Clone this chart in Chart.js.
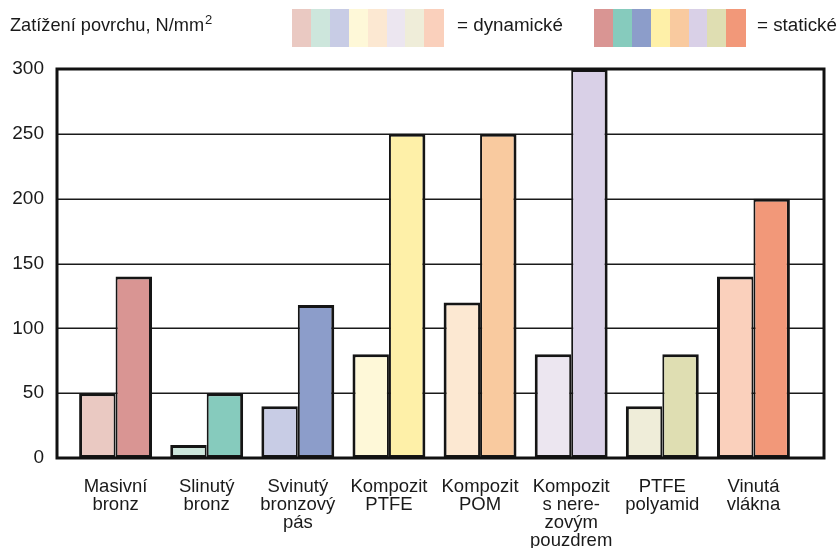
<!DOCTYPE html>
<html>
<head>
<meta charset="utf-8">
<script src="https://cdn.jsdelivr.net/npm/chart.js@4/dist/chart.umd.min.js"></script>
<style>
  html, body { margin: 0; padding: 0; background: #fff; }
  #wrap { position: relative; width: 840px; height: 548px; font-family: "Liberation Sans", Arial, sans-serif; color: #1a1a1a; }
  canvas { position: absolute; left: 0; top: 0; }
  .txt { position: absolute; white-space: nowrap; line-height: 1; }
  .sw { position: absolute; top: 9px; height: 38px; width: 19px; }
  sup { font-size: 13px; vertical-align: 0; position: relative; top: -7px; margin-left: 1px; }
</style>
</head>
<body>
<div id="wrap">
  <canvas id="c" width="840" height="548"></canvas>
  <div class="txt" id="title" style="left:10px; top:16px; font-size:18.2px;">Zatížení povrchu, N/mm<sup>2</sup></div>
  <div id="legDyn"></div>
  <div class="txt" style="left:457px; top:16px; font-size:18.8px;">= dynamické</div>
  <div id="legStat"></div>
  <div class="txt" style="left:757px; top:16px; font-size:18.8px;">= statické</div>
</div>
<script>
const categories = [
  ['Masivní','bronz'],
  ['Slinutý','bronz'],
  ['Svinutý','bronzový','pás'],
  ['Kompozit','PTFE'],
  ['Kompozit','POM'],
  ['Kompozit','s nere-','zovým','pouzdrem'],
  ['PTFE','polyamid'],
  ['Vinutá','vlákna']
];
const dynamicValues = [50, 10, 40, 80, 120, 80, 40, 140];
const staticValues  = [140, 50, 118, 250, 250, 300, 80, 200];
const yTicks = [0, 50, 100, 150, 200, 250, 300];
const dynamicColors = ['#EAC9C2','#CDE6DC','#C8CCE5','#FEF8D8','#FCE8D2','#ECE6F0','#EFEDD9','#FAD0BC'];
const staticColors  = ['#D99593','#86CBBD','#8C9DCA','#FEF0A8','#F9CA9F','#D9D0E7','#DFDEB2','#F29879'];

function buildLegend(id, colors, x0) {
  const el = document.getElementById(id);
  colors.forEach((c, i) => {
    const d = document.createElement('div');
    d.className = 'sw';
    d.style.left = (x0 + i * 18.9) + 'px';
    d.style.width = '19.5px';
    d.style.background = c;
    el.appendChild(d);
  });
}
buildLegend('legDyn', dynamicColors, 292);
buildLegend('legStat', staticColors, 594);

const EXT_L = 13, EXT_R = 25;
const framePlugin = {
  id: 'frame',
  beforeDatasetsDraw(chart) {
    const ctx = chart.ctx, a = chart.chartArea, y = chart.scales.y;
    ctx.save();
    ctx.strokeStyle = '#1a1a1a';
    ctx.lineWidth = 1.5;
    yTicks.forEach(v => {
      if (v === yTicks[0] || v === yTicks[yTicks.length - 1]) return;
      const p = Math.round(y.getPixelForValue(v)) + 0.25;
      ctx.beginPath();
      ctx.moveTo(a.left - EXT_L, p);
      ctx.lineTo(a.right + EXT_R, p);
      ctx.stroke();
    });
    ctx.restore();
  },
  afterDatasetsDraw(chart) {
    const ctx = chart.ctx, a = chart.chartArea;
    ctx.save();
    ctx.strokeStyle = '#111';
    ctx.lineWidth = 3;
    ctx.strokeRect(a.left - EXT_L, a.top, (a.right + EXT_R) - (a.left - EXT_L), a.bottom - a.top);
    ctx.restore();
  }
};

new Chart(document.getElementById('c'), {
  type: 'bar',
  data: {
    labels: categories,
    datasets: [
      { label: 'dynamické', data: dynamicValues, backgroundColor: dynamicColors, borderColor: '#151515',
        borderWidth: { top: 3, left: 3, bottom: 3, right: 2 }, borderSkipped: false },
      { label: 'statické', data: staticValues, backgroundColor: staticColors, borderColor: '#151515',
        borderWidth: { top: 3, left: 2, bottom: 3, right: 3 }, borderSkipped: false }
    ]
  },
  options: {
    responsive: false,
    devicePixelRatio: 1,
    animation: false,
    layout: { padding: { top: 69, right: 41, left: 0, bottom: 0 } },
    plugins: { legend: { display: false }, tooltip: { enabled: false } },
    datasets: { bar: { categoryPercentage: 0.8, barPercentage: 1.0 } },
    scales: {
      x: {
        grid: { display: false, drawTicks: false },
        border: { display: false },
        ticks: {
          color: '#1a1a1a',
          font: { family: '"Liberation Sans", Arial, sans-serif', size: 18.5, lineHeight: 0.97 },
          padding: 20,
          maxRotation: 0, autoSkip: false
        },
        afterFit(s) { s.height = 548 - 458; }
      },
      y: {
        min: 0, max: 300,
        grid: { display: false, drawTicks: false },
        border: { display: false },
        ticks: {
          stepSize: 50,
          color: '#1a1a1a',
          font: { family: '"Liberation Sans", Arial, sans-serif', size: 19 },
          padding: 26
        },
        afterFit(s) { s.width = 70; }
      }
    }
  },
  plugins: [framePlugin]
});
</script>
</body>
</html>
